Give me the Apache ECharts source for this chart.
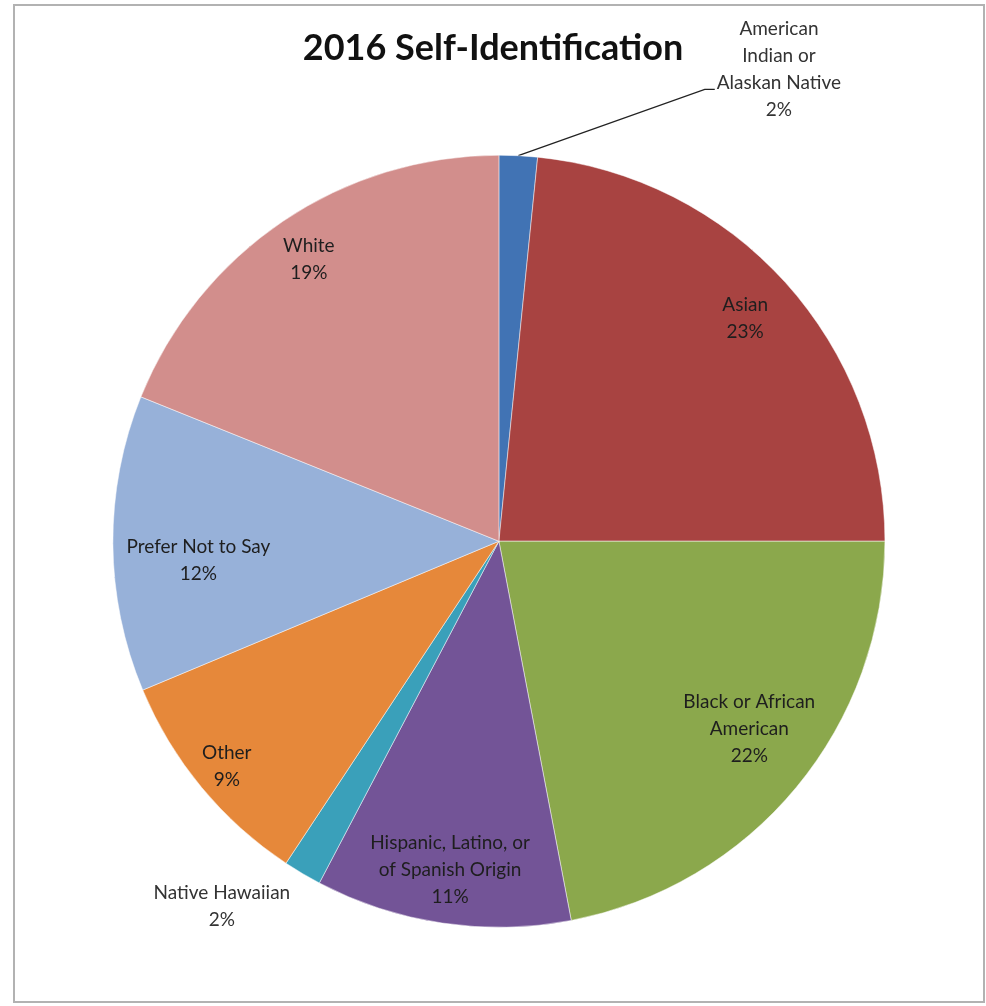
<!DOCTYPE html>
<html><head><meta charset="utf-8">
<script src="https://cdn.jsdelivr.net/npm/echarts@6/dist/echarts.min.js"></script>
<style>html,body{margin:0;padding:0;background:#fff}#c{width:986px;height:1006px}</style>
</head><body><div id="c"></div>
<script>
// ---- data ----
const chartTitle = '2016 Self-Identification';
const categories = [
  'American\nIndian or\nAlaskan Native',
  'Asian',
  'Black or African\nAmerican',
  'Hispanic, Latino, or\nof Spanish Origin',
  'Native Hawaiian',
  'Other',
  'Prefer Not to Say',
  'White'
];
const values = [1.6, 23.4, 22.0, 10.7, 1.6, 9.4, 12.4, 18.9];

// ---- styles / layout ----
const colors = ['#4173B4', '#A84341', '#8BA84C', '#735497', '#3AA0BA', '#E6883A', '#97B1D9', '#D28E8C'];
const labelRadius = [null, 0.86, 0.81, 0.86, null, 0.915, 0.78, 0.88];
const labelAngleShift = [0, 0, -2.8, 0, 0, 0, -3.2, 0]; // degrees
const outsideLabelPos = { 0: ['79%', '6.9%'], 4: ['22.5%', '90.1%'] };
const CX = 0.506, CY = 0.538, RAD = 0.783;

const chart = echarts.init(document.getElementById('c'), null, { renderer: 'canvas' });
const total = values.reduce((a, b) => a + b, 0);
function midAngle(i) {
  let cum = 0;
  for (let k = 0; k < i; k++) cum += values[k];
  return (cum + values[i] / 2) / total * Math.PI * 2;
}

const data = values.map((v, i) => {
  const item = { name: categories[i], value: v, itemStyle: { color: colors[i] } };
  if (outsideLabelPos[i]) {
    item.label = { position: 'outside', color: '#333' };
    item.labelLine = { show: i === 0, lineStyle: { color: '#222', width: 1.3 } };
  }
  return item;
});

chart.setOption({
  animation: false,
  backgroundColor: '#fff',
  title: {
    text: chartTitle,
    left: 'center',
    top: 25,
    textStyle: { fontFamily: 'Lato', fontWeight: 'bold', fontSize: 36, color: '#111' }
  },
  graphic: [{
    type: 'rect', silent: true, z: -1,
    shape: { x: 14, y: 5, width: 970, height: 997 },
    style: { fill: 'none', stroke: '#b2b2b2', lineWidth: 2 }
  }],
  series: [{
    type: 'pie',
    startAngle: 90,
    clockwise: true,
    center: [CX * 100 + '%', CY * 100 + '%'],
    radius: RAD * 100 + '%',
    itemStyle: { borderColor: 'rgba(255,255,255,0.6)', borderWidth: 0.8 },
    label: {
      position: 'inside',
      fontFamily: 'Lato',
      fontSize: 19,
      lineHeight: 27,
      color: '#1e1e1e',
      align: 'center',
      formatter: p => p.name + '\n' + Math.round(p.percent) + '%'
    },
    labelLayout: function (params) {
      const i = params.dataIndex;
      const W = chart.getWidth(), H = chart.getHeight();
      const cx = W * CX, cy = H * CY, R = RAD * Math.min(W, H) / 2;
      const a = midAngle(i);
      if (outsideLabelPos[i]) {
        const pos = outsideLabelPos[i];
        const x = parseFloat(pos[0]) / 100 * W, y = parseFloat(pos[1]) / 100 * H;
        const res = { x: x, y: y, align: 'center', verticalAlign: 'middle' };
        if (i === 0) {
          const w = params.labelRect.width;
          const left = x - w / 2;
          const ly = y + 20;
          res.labelLinePoints = [
            [cx + R * Math.sin(a), cy - R * Math.cos(a)],
            [left - 12, ly],
            [left - 2, ly]
          ];
        }
        return res;
      }
      const r = labelRadius[i] * R;
      const b = a + labelAngleShift[i] * Math.PI / 180;
      return { x: cx + r * Math.sin(b), y: cy - r * Math.cos(b), align: 'center', verticalAlign: 'middle' };
    },
    data: data
  }]
});
</script>
</body></html>
